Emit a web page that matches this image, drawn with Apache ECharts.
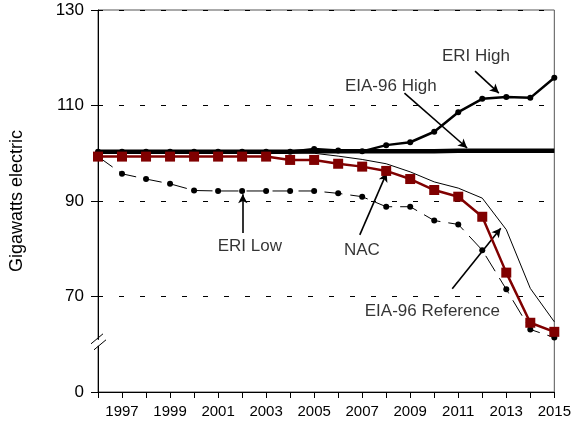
<!DOCTYPE html>
<html>
<head>
<meta charset="utf-8">
<script src="https://cdn.jsdelivr.net/npm/echarts@6/dist/echarts.min.js"></script>
<style>
html,body{margin:0;padding:0;background:#fff;}
#c{width:574px;height:423px;}
</style>
</head>
<body>
<div id="c"></div>
<script>
var years = [1996,1997,1998,1999,2000,2001,2002,2003,2004,2005,2006,2007,2008,2009,2010,2011,2012,2013,2014,2015];
var eiaHigh = [100.3,100.3,100.3,100.3,100.3,100.3,100.3,100.3,100.3,100.4,100.4,100.4,100.4,100.4,100.4,100.5,100.5,100.5,100.5,100.5];
var eriHigh = [100.3,100.3,100.3,100.3,100.3,100.3,100.3,100.3,100.3,100.9,100.6,100.4,101.7,102.3,104.5,108.6,111.4,111.8,111.6,115.8];
var nac     = [99.3,99.3,99.3,99.3,99.3,99.3,99.3,99.3,98.6,98.6,97.8,97.2,96.3,94.6,92.3,90.9,86.7,75.0,64.5,62.6];
var eiaRef  = [100.3,100.3,100.3,100.3,100.3,100.3,100.3,100.3,100.2,100.0,99.4,98.7,97.8,96.1,94.0,92.7,90.6,84.0,71.7,64.7];
var eriLow  = [99.3,95.7,94.6,93.6,92.2,92.1,92.1,92.1,92.1,92.1,91.6,90.9,88.8,88.8,85.9,85.1,79.7,71.5,63.1,61.4];
var yTicks = [50,70,90,110,130];
var yTickLabels = ['0','70','90','110','130'];

function pairs(arr){ return years.map(function(y,i){ return [y, arr[i]]; }); }

var FONT = 'Liberation Sans, Arial, sans-serif';
var chart = echarts.init(document.getElementById('c'), null, {renderer:'canvas'});

var notes = [
  {text:'ERI High', at:[2011.74,120.2], from:[2011.70,117.2], to:[2012.69,112.6]},
  {text:'EIA-96 High', at:[2008.19,114.1], from:[2008.76,112.6], to:[2011.37,101.1]},
  {text:'ERI Low', at:[2002.32,80.6], from:[2002.03,83.3], to:[2002.03,91.4]},
  {text:'NAC', at:[2006.99,79.6], from:[2006.90,82.9], to:[2008.02,95.9]},
  {text:'EIA-96 Reference', at:[2009.92,66.9], from:[2010.75,71.6], to:[2012.77,84.3]}
];

var option = {
  animation:false,
  backgroundColor:'#fff',
  grid:{left:96, right:18, top:10, bottom:31, show:true, borderColor:'#555', borderWidth:1, backgroundColor:'transparent'},
  xAxis:{
    type:'value', min:1996, max:2015, interval:1,
    axisLine:{lineStyle:{color:'#000', width:1}},
    axisTick:{show:true, length:6, lineStyle:{color:'#000'}},
    axisLabel:{color:'#000', fontSize:15, fontFamily:FONT, margin:12,
      formatter:function(v){ return (v % 2 === 1) ? String(v) : ''; }},
    splitLine:{show:false}
  },
  yAxis:{
    type:'value', min:50, max:130, interval:20,
    name:'Gigawatts electric', nameLocation:'middle', nameRotate:90, nameGap:72,
    nameTextStyle:{color:'#000', fontSize:18, fontFamily:FONT},
    axisLine:{show:true, lineStyle:{color:'#000', width:1}},
    axisTick:{show:true, length:7, lineStyle:{color:'#000'}},
    axisLabel:{color:'#000', fontSize:17, fontFamily:FONT, margin:14,
      formatter:function(v){ var i = yTicks.indexOf(v); return i >= 0 ? yTickLabels[i] : ''; }},
    splitLine:{show:true, lineStyle:{color:'#000', width:1, type:[5,16]}}
  },
  series:[
    {name:'ERI Low', type:'line', data:pairs(eriLow), symbol:'circle', symbolSize:6,
      itemStyle:{color:'#000'}, lineStyle:{color:'#000', width:1, type:[18,8]}, z:2},
    {name:'EIA-96 Reference', type:'line', data:pairs(eiaRef), symbol:'none',
      lineStyle:{color:'#000', width:1}, z:3},
    {name:'ERI High', type:'line', data:pairs(eriHigh), symbol:'circle', symbolSize:6,
      itemStyle:{color:'#000'}, lineStyle:{color:'#000', width:2.5}, z:4},
    {name:'EIA-96 High', type:'line', data:pairs(eiaHigh), symbol:'none',
      lineStyle:{color:'#000', width:4.5}, z:5},
    {name:'NAC', type:'line', data:pairs(nac), symbol:'rect', symbolSize:10,
      itemStyle:{color:'#800000'}, lineStyle:{color:'#800000', width:2.5}, z:6},
    {name:'arrows', type:'line', data:[], symbol:'none', silent:true, z:7,
      markLine:{silent:true, symbol:['none','arrow'], symbolSize:[7,9], animation:false,
        label:{show:false},
        lineStyle:{color:'#000', width:1.6, type:'solid'},
        data:notes.map(function(n){ return [{coord:n.from},{coord:n.to}]; })}},
    {name:'labels', type:'scatter', symbolSize:0, silent:true, z:8,
      data:notes.map(function(n){ return {name:n.text, value:n.at}; }),
      label:{show:true, position:'inside', formatter:'{b}', color:'#000', fontSize:17, fontFamily:FONT}}
  ]
};
chart.setOption(option);

// axis break mark on the y axis
var pA = chart.convertToPixel({gridIndex:0}, [1996, 60.3]);
var bx = pA[0], by = pA[1];
chart.setOption({
  graphic:[
    {type:'rect', shape:{x:bx-2, y:by-3, width:4, height:6}, style:{fill:'#fff'}, z:100},
    {type:'line', shape:{x1:bx-7, y1:by+1, x2:bx+5, y2:by-9}, style:{stroke:'#000', lineWidth:1}, z:101},
    {type:'line', shape:{x1:bx-4, y1:by+7, x2:bx+8, y2:by-3}, style:{stroke:'#000', lineWidth:1}, z:101}
  ]
});
</script>
</body>
</html>
